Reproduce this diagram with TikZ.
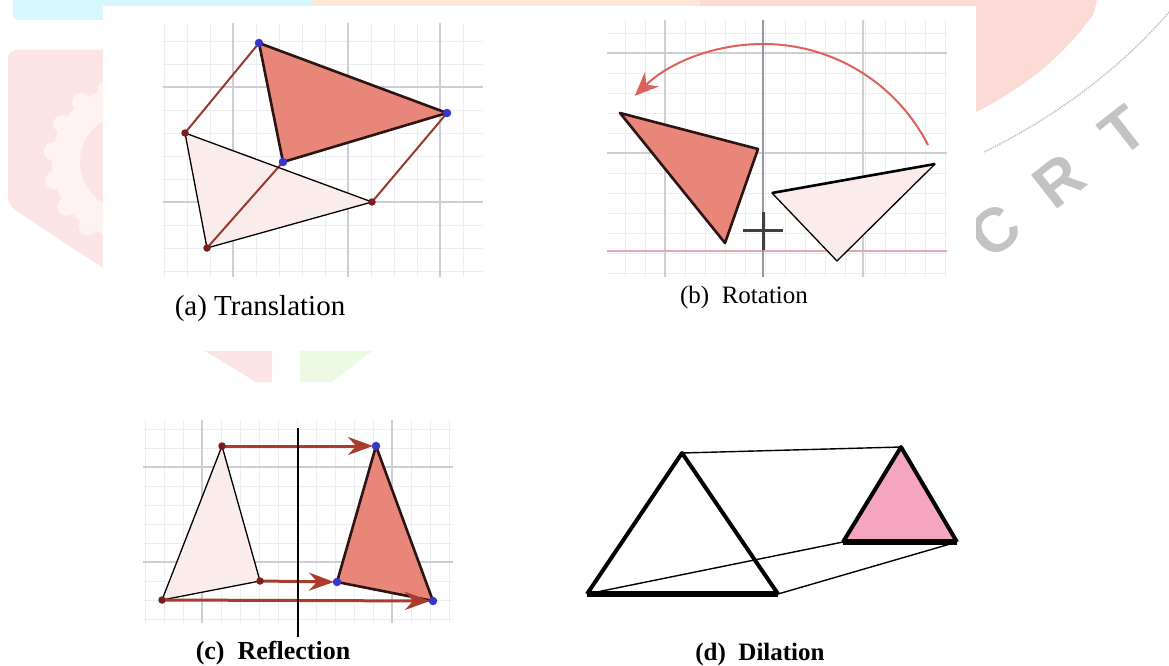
\documentclass[tikz,border=0pt]{standalone}
\usepackage{fontspec}
\setmainfont{Liberation Serif}
\setsansfont{Liberation Sans}
\usetikzlibrary{arrows.meta}
\definecolor{salmon}{RGB}{232,134,122}
\definecolor{palepink}{RGB}{251,236,236}
\definecolor{transl}{RGB}{150,58,48}
\definecolor{outl}{RGB}{45,20,20}
\definecolor{reddot}{RGB}{120,30,30}
\definecolor{bluedot}{RGB}{55,55,200}
\definecolor{arcred}{RGB}{226,96,90}
\definecolor{refarrow}{RGB}{170,60,45}
\definecolor{dilpink}{RGB}{244,166,192}
\definecolor{gridminor}{RGB}{236,236,242}
\definecolor{gridmajor}{RGB}{205,205,212}
\definecolor{axispink}{RGB}{222,170,175}
\definecolor{axisgray}{RGB}{150,150,160}
\definecolor{wmcyan}{RGB}{214,248,252}
\definecolor{wmpeach}{RGB}{253,232,216}
\definecolor{wmpink}{RGB}{252,218,214}
\definecolor{wmpinklight}{RGB}{253,228,228}
\definecolor{wmgear}{RGB}{254,242,242}
\definecolor{wmgreen}{RGB}{236,250,228}
\definecolor{wmgray}{RGB}{195,195,195}
\tikzset{
  minorline/.style={gridminor, line width=0.8pt},
  majorline/.style={gridmajor, line width=1.6pt},
  oldtri/.style={fill=palepink, draw=black, line width=1.3pt, line join=round},
  newtri/.style={fill=salmon, draw=outl, line width=2.6pt, line join=round},
  transline/.style={transl, line width=2pt},
  rdot/.style={circle, fill=reddot, inner sep=0pt, minimum size=7.5pt},
  bdot/.style={circle, fill=bluedot, inner sep=0pt, minimum size=8.5pt},
  refarr/.style={refarrow, line width=3pt, -{Stealth[length=25pt,width=18pt]}, shorten >=3pt},
  dthick/.style={draw=black, line width=4pt, line join=round},
  dthin/.style={black, line width=1.4pt},
  capreg/.style={anchor=base, inner sep=0pt, font=\fontsize{29}{30}\selectfont},
  wmletter/.style={wmgray, rotate=38, inner sep=0pt, font=\sffamily\bfseries\fontsize{62}{62}\selectfont},
}
\begin{document}
\begin{tikzpicture}[x=1pt,y=-1pt]
\useasboundingbox (0,0) rectangle (1169,666);
\fill[white] (0,0) rectangle (1169,666);

% ---------- faint watermark (background) ----------
\fill[wmcyan, rounded corners=6pt] (13,-10) rectangle (312,20);
\fill[wmpeach] (312,-10) rectangle (700,8);
\fill[wmpink] (700,-10) -- (1100,-10) -- (1093,15) .. controls (1060,60) and (1020,90) .. (976,112) -- (700,112) -- cycle;
\fill[wmpinklight, rounded corners=8pt] (8,50) -- (110,50) -- (110,272) -- (60,240) -- (8,205) -- cycle;
\fill[wmgear] (128,162) circle[radius=76];
\foreach \a in {100,122,...,260}
  \fill[wmgear] (128,162) ++(\a:76) circle[radius=9];
\fill[wmpinklight] (128,162) circle[radius=48];
\fill[wmpinklight] (205,351) -- (272,351) -- (272,382) -- (256,382) -- cycle;
\fill[wmgreen] (300,351) -- (372,351) -- (332,382) -- (300,382) -- cycle;
\draw[wmgray, line width=1.5pt, densely dotted] (1169,12) .. controls (1120,70) and (1050,120) .. (984,152);
\node[wmletter] (wmC) at (995,231) {C};
\node[wmletter] (wmR) at (1059,181) {R};
\node[wmletter] (wmT) at (1123,131) {T};

% white panel for the top row
\fill[white] (103,6) rectangle (976,351);

% ---------- (a) Translation ----------
\begin{scope}
  \clip (163,23) rectangle (483,277);
  \foreach \x in {164,187,...,480} \draw[minorline] (\x,23) -- (\x,277);
  \foreach \y in {41,64,...,275} \draw[minorline] (163,\y) -- (483,\y);
  \foreach \x in {233,348,440} \draw[majorline] (\x,23) -- (\x,277);
  \foreach \y in {87,202} \draw[majorline] (163,\y) -- (483,\y);
\end{scope}
\coordinate (aA) at (185,133);
\coordinate (aB) at (372,202);
\coordinate (aC) at (207,248);
\coordinate (aA2) at (259,43);
\coordinate (aB2) at (447,113);
\coordinate (aC2) at (283,162);
\path[fill=palepink] (aA) -- (aB) -- (aC) -- cycle;
\draw[transline] (aA) -- (aA2);
\draw[transline] (aB) -- (aB2);
\draw[transline] (aC) -- (aC2);
\draw[black, line width=1.3pt, line join=round] (aA) -- (aB) -- (aC) -- cycle;
\draw[newtri] (aA2) -- (aB2) -- (aC2) -- cycle;
\node[rdot] (dA) at (aA) {};
\node[rdot] (dB) at (aB) {};
\node[rdot] (dC) at (aC) {};
\node[bdot] (dA2) at (aA2) {};
\node[bdot] (dB2) at (aB2) {};
\node[bdot] (dC2) at (aC2) {};
\node[capreg] (capa) at (260,315) {(a) Translation};

% ---------- (b) Rotation ----------
\begin{scope}
  \clip (607,20) rectangle (947,277);
  \foreach \x in {625,645,...,945} \draw[minorline] (\x,20) -- (\x,277);
  \foreach \y in {33,53,...,275} \draw[minorline] (607,\y) -- (947,\y);
  \foreach \x in {665,863} \draw[majorline] (\x,20) -- (\x,277);
  \foreach \y in {53,153} \draw[majorline] (607,\y) -- (947,\y);
  \draw[axispink, line width=1.8pt] (607,251) -- (947,251);
  \draw[axisgray, line width=1.6pt] (763,20) -- (763,277);
\end{scope}
\coordinate (rc) at (763,229);
\draw[black!75, line width=3pt] (743,230) -- (783,230);
\draw[black!75, line width=3pt] (763,212) -- (763,250);
\coordinate (bP) at (772,193);
\coordinate (bQ) at (935,164);
\coordinate (bR) at (837,261);
\coordinate (bP2) at (620,113);
\coordinate (bQ2) at (758,149);
\coordinate (bR2) at (725,243);
\draw[oldtri] (bP) -- (bQ) -- (bR) -- cycle;
\draw[black, line width=2.6pt] (bP) -- (bQ);
\draw[newtri] (bP2) -- (bQ2) -- (bR2) -- cycle;
\coordinate (arcstart) at (928,145);
\draw[arcred, line width=2pt, -{Stealth[length=24pt,width=20pt]}] (arcstart) arc[start angle=-27, end angle=-134, radius=185];
\node[capreg, font=\fontsize{25}{26}\selectfont] (capb) at (744,303) {(b)\enspace Rotation};

% ---------- (c) Reflection ----------
\begin{scope}
  \clip (143,420) rectangle (453,623);
  \foreach \x in {145,164,...,452} \draw[minorline] (\x,420) -- (\x,623);
  \foreach \y in {429,448,...,622} \draw[minorline] (143,\y) -- (453,\y);
  \foreach \x in {202,392} \draw[majorline] (\x,420) -- (\x,623);
  \foreach \y in {467,562} \draw[majorline] (143,\y) -- (453,\y);
\end{scope}
\coordinate (cP1) at (222,446);
\coordinate (cP2) at (260,581);
\coordinate (cP3) at (162,600);
\coordinate (cQ1) at (376,446);
\coordinate (cQ2) at (337,582);
\coordinate (cQ3) at (433,601);
\coordinate (mtop) at (298,428);
\coordinate (mbot) at (298,637);
\draw[oldtri] (cP1) -- (cP2) -- (cP3) -- cycle;
\draw[newtri] (cQ1) -- (cQ2) -- (cQ3) -- cycle;
\draw[refarr] (cP1) -- (cQ1);
\draw[refarr] (cP2) -- (cQ2);
\draw[refarr] (cP3) -- (cQ3);
\draw[black, line width=1.5pt] (mtop) -- (mbot);
\node[rdot] (eP1) at (cP1) {};
\node[rdot] (eP2) at (cP2) {};
\node[rdot] (eP3) at (cP3) {};
\node[bdot] (eQ1) at (cQ1) {};
\node[bdot] (eQ2) at (cQ2) {};
\node[bdot] (eQ3) at (cQ3) {};
\node[capreg, font=\bfseries\fontsize{26}{27}\selectfont] (capc) at (273,659) {(c)\enspace Reflection};

% ---------- (d) Dilation ----------
\coordinate (dL) at (587,594);
\coordinate (dT) at (682,453);
\coordinate (dR) at (778,594);
\coordinate (sL) at (843,542);
\coordinate (sT) at (901,447);
\coordinate (sR) at (957,542);
\draw[dthin] (dT) -- (sT);
\draw[dthin] (dL) -- (sL);
\draw[dthin] (dR) -- (sR);
\draw[dthick] (dL) -- (dT) -- (dR);
\draw[black, line width=6pt] (dL) -- (dR);
\fill[dilpink] (sL) -- (sT) -- (sR) -- cycle;
\draw[dthick] (sL) -- (sT) -- (sR);
\draw[black, line width=5.5pt] (sL) -- (sR);
\node[capreg, font=\bfseries\fontsize{25}{26}\selectfont] (capd) at (760,660) {(d)\enspace Dilation};
\end{tikzpicture}
\end{document}
